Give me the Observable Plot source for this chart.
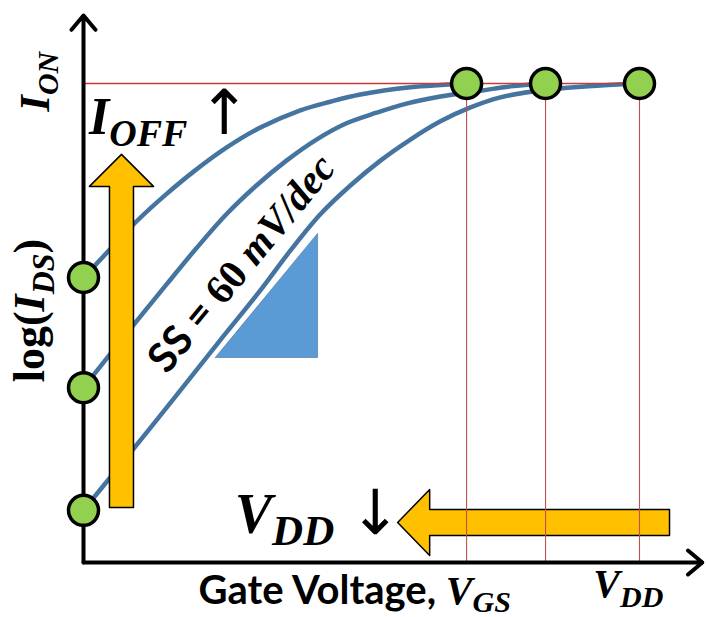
<!DOCTYPE html>
<html><head><meta charset="utf-8">
<script src="https://cdn.jsdelivr.net/npm/d3@7"></script>
<script src="https://cdn.jsdelivr.net/npm/@observablehq/plot@0.6"></script>
<style>html,body{margin:0;padding:0;background:#fff;} #chart svg{display:block;overflow:visible}</style>
</head><body><div id="chart"></div>
<script>
// Normalized units: V_GS relative to the largest V_DD, log(I_DS) relative to I_ON (= 1)
const curveHighX = [0, 0.031, 0.097, 0.148, 0.198, 0.257, 0.318, 0.390, 0.444, 0.498, 0.588, 0.689];
const curveHighY = [0.595, 0.633, 0.714, 0.768, 0.816, 0.866, 0.908, 0.944, 0.962, 0.977, 0.992, 1.0];
const curveMidX = [0, 0.072, 0.149, 0.203, 0.257, 0.311, 0.365, 0.419, 0.473, 0.527, 0.581, 0.642, 0.714, 0.768, 0.831];
const curveMidY = [0.365, 0.470, 0.580, 0.656, 0.727, 0.787, 0.839, 0.883, 0.917, 0.939, 0.958, 0.973, 0.985, 0.994, 1.0];
const curveLowX = [0, 0.121, 0.241, 0.318, 0.372, 0.426, 0.480, 0.534, 0.588, 0.642, 0.696, 0.750, 0.831, 0.930, 1.0];
const curveLowY = [0.109, 0.282, 0.457, 0.568, 0.651, 0.727, 0.787, 0.839, 0.883, 0.921, 0.950, 0.971, 0.987, 0.996, 1.0];
const offCurrents = [0.595, 0.365, 0.109];      // log I_OFF at V_GS = 0
const supplyVoltages = [0.689, 0.831, 1.0];     // V_DD where I_ON is reached
const onCurrent = 1.0;

// Annotation texts (plain key -> rich parts)
const SERIF = "Liberation Serif";
const SANS = "Lato";
const ARROWFONT = "DejaVu Sans ExtraLight, DejaVu Sans";
const richLabels = {
  "ION": [{t:"I", size:42}, {t:"ON", size:30, sub:9}],
  "log(IDS)": [{t:"log(", style:"normal"}, {t:"I", style:"italic"}, {t:"DS", style:"italic", size:32, sub:10}, {t:")", style:"normal", sub:0}],
  "IOFF": [{t:"I", size:52}, {t:"OFF", size:38, sub:12}],
  "VDDa": [{t:"V", size:56}, {t:"DD", size:43, sub:12}],
  "Gate Voltage, VGS": [{t:"Gate Voltage, ", family:SANS, style:"normal"}, {t:"V", family:SERIF, style:"italic", size:40}, {t:"GS", family:SERIF, style:"italic", size:30, sub:8}],
  "VDDb": [{t:"V", size:40}, {t:"DD", size:30, sub:10}],
  "SS = 60 mV/dec": [{t:"SS = ", family:SANS, style:"normal"}, {t:"60 ", family:SERIF, style:"normal"}, {t:"mV/dec", family:SERIF, style:"italic"}]
};

const curves = [
  ...curveHighX.map((x, i) => ({series: "high", x, y: curveHighY[i]})),
  ...curveMidX.map((x, i) => ({series: "mid", x, y: curveMidY[i]})),
  ...curveLowX.map((x, i) => ({series: "low", x, y: curveLowY[i]}))
];

function blockArrowV(cx, yTail, yTip, shaftHalf, headHalf, headLen) {
  const yb = yTip - headLen;
  return [[cx - shaftHalf, yTail], [cx - shaftHalf, yb], [cx - headHalf, yb], [cx, yTip], [cx + headHalf, yb], [cx + shaftHalf, yb], [cx + shaftHalf, yTail], [cx - shaftHalf, yTail]].map(([x, y]) => ({x, y}));
}
function blockArrowH(cy, xTail, xTip, shaftHalf, headHalf, headLen) {
  const xb = xTip + headLen;
  return [[xTail, cy - shaftHalf], [xb, cy - shaftHalf], [xb, cy - headHalf], [xTip, cy], [xb, cy + headHalf], [xb, cy + shaftHalf], [xTail, cy + shaftHalf], [xTail, cy - shaftHalf]].map(([x, y]) => ({x, y}));
}
const upArrow = blockArrowV(0.0683, 0.115, 0.852, 0.0216, 0.0576, 0.0668);
const leftArrow = blockArrowH(0.0835, 1.054, 0.565, 0.0271, 0.0689, 0.0576);
const slope = [{x: 0.237, y: 0.428}, {x: 0.421, y: 0.428}, {x: 0.421, y: 0.687}, {x: 0.237, y: 0.428}];

const chart = Plot.plot({
  width: 706, height: 617,
  marginLeft: 83, marginRight: 67, marginTop: 83, marginBottom: 55,
  x: {domain: [0, 1], axis: null},
  y: {domain: [0, 1], axis: null},
  style: {background: "white", overflow: "visible"},
  marks: [
    Plot.line(curves, {x: "x", y: "y", z: "series", stroke: "#44749f", strokeWidth: 4.5, curve: "catmull-rom"}),
    Plot.line(upArrow, {x: "x", y: "y", fill: "#ffc000", stroke: "#000", strokeWidth: 1.5}),
    Plot.line(leftArrow, {x: "x", y: "y", fill: "#ffc000", stroke: "#000", strokeWidth: 1.5}),
    Plot.ruleX(supplyVoltages, {y1: 0, y2: onCurrent, stroke: "#c0504d", strokeWidth: 1.1}),
    Plot.ruleY([onCurrent], {x1: 0, x2: d3.max(supplyVoltages), stroke: "#c83a3a", strokeWidth: 1.3}),
    Plot.line(slope, {x: "x", y: "y", fill: "#5b9bd5", stroke: "#41719c", strokeWidth: 0.6}),
    Plot.arrow([{x1: 0, y1: 0, x2: 0, y2: 1.142}], {x1: "x1", y1: "y1", x2: "x2", y2: "y2", stroke: "#000", strokeWidth: 4, headLength: 7, headAngle: 80}),
    Plot.arrow([{x1: 0, y1: 0, x2: 1.113, y2: 0}], {x1: "x1", y1: "y1", x2: "x2", y2: "y2", stroke: "#000", strokeWidth: 4, headLength: 7, headAngle: 80}),
    Plot.dot(offCurrents, {x: () => 0, y: d => d, r: 15, fill: "#92d050", stroke: "#000", strokeWidth: 3.5}),
    Plot.dot(supplyVoltages, {x: d => d, y: () => onCurrent, r: 15, fill: "#92d050", stroke: "#000", strokeWidth: 3.5}),
    Plot.text(["ION"], {x: -0.086, y: 1.004, text: d => d, rotate: -90, fontFamily: SERIF, fontWeight: "bold", fontStyle: "italic", fontSize: 42, fill: "#000"}),
    Plot.text(["log(IDS)"], {x: -0.097, y: 0.526, text: d => d, rotate: -90, fontFamily: SERIF, fontWeight: "bold", fontSize: 44, fill: "#000"}),
    Plot.text(["IOFF"], {x: 0.01, y: 0.929, text: d => d, textAnchor: "start", fontFamily: SERIF, fontWeight: "bold", fontStyle: "italic", fontSize: 52, fill: "#000"}),
    Plot.text(["↑"], {x: 0.2536, y: 0.937, text: d => d, fontFamily: ARROWFONT, fontSize: 62, fill: "#000"}),
    Plot.text(["VDDa"], {x: 0.272, y: 0.098, text: d => d, textAnchor: "start", fontFamily: SERIF, fontWeight: "bold", fontStyle: "italic", fontSize: 56, fill: "#000"}),
    Plot.text(["↓"], {x: 0.525, y: 0.100, text: d => d, fontFamily: ARROWFONT, fontSize: 62, fill: "#000"}),
    Plot.text(["Gate Voltage, VGS"], {x: 0.207, y: -0.0605, text: d => d, textAnchor: "start", fontFamily: SANS, fontWeight: "bold", fontSize: 40, fill: "#000"}),
    Plot.text(["VDDb"], {x: 0.980, y: -0.046, text: d => d, fontFamily: SERIF, fontWeight: "bold", fontStyle: "italic", fontSize: 40, fill: "#000"}),
    Plot.text(["SS = 60 mV/dec"], {x: 0.285, y: 0.624, text: d => d, rotate: -50.5, fontFamily: SERIF, fontWeight: "bold", fontSize: 41, fill: "#000"})
  ]
});

d3.select(chart).selectAll("text").each(function () {
  const parts = richLabels[this.textContent];
  if (!parts) return;
  const sel = d3.select(this);
  sel.text(null);
  let shift = 0;
  for (const p of parts) {
    const ts = sel.append("tspan").text(p.t);
    if (p.family) ts.attr("font-family", p.family);
    if (p.size) ts.attr("font-size", p.size);
    if (p.style) ts.attr("font-style", p.style);
    const target = p.sub || 0;
    if (target !== shift) { ts.attr("dy", target - shift); shift = target; }
  }
});

document.getElementById("chart").appendChild(chart);
</script>
</body></html>
